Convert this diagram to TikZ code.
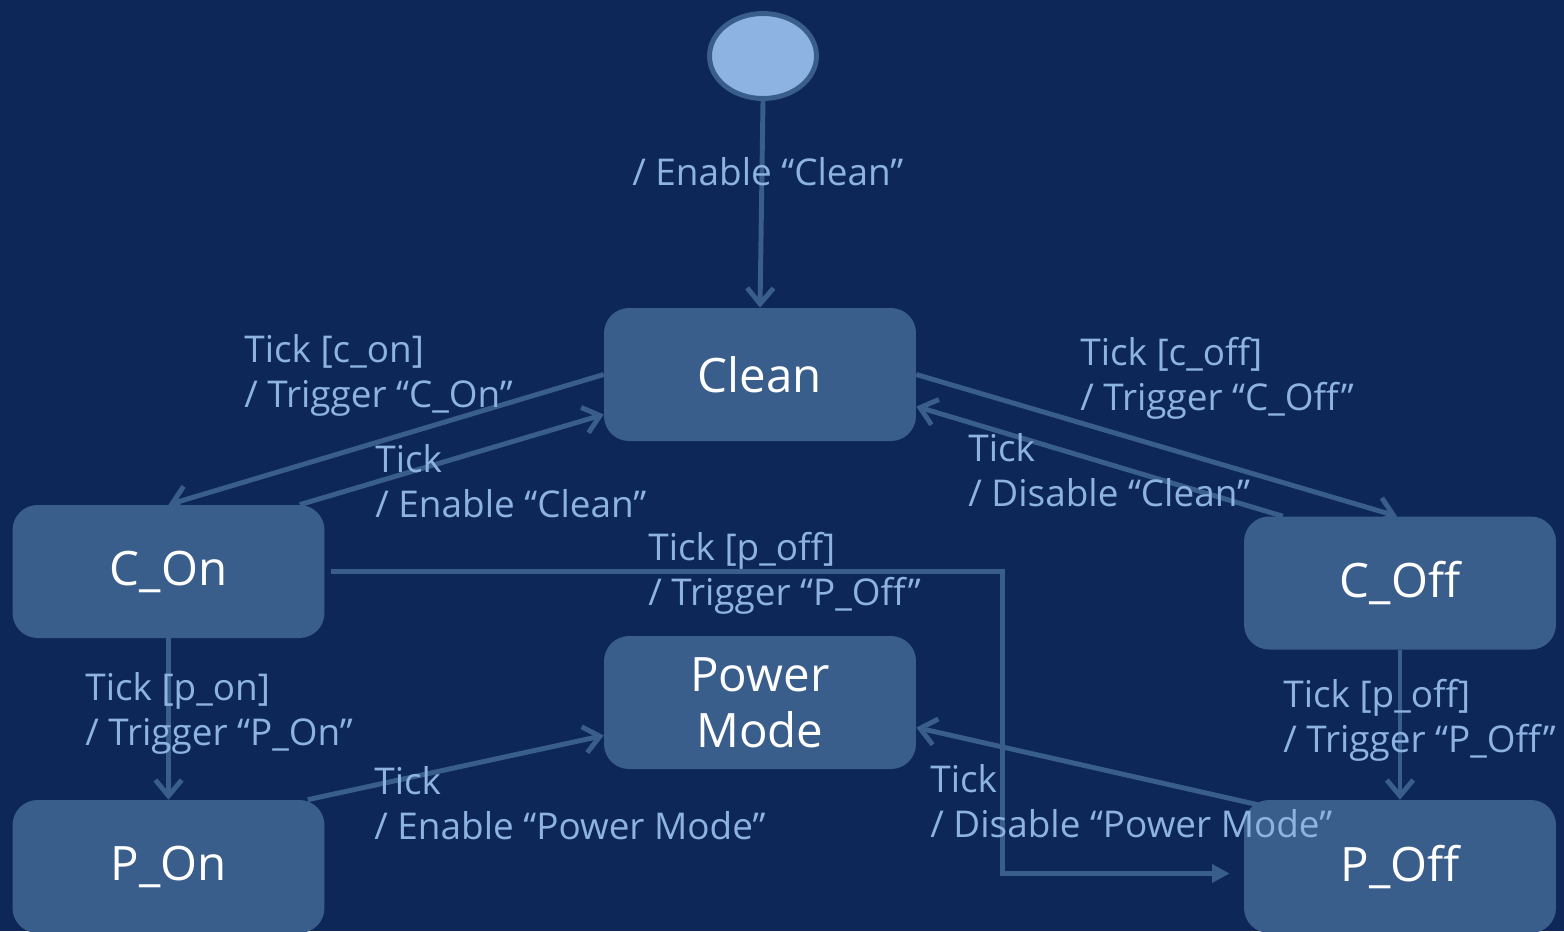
\documentclass[tikz,border=0pt]{standalone}
\usepackage{fontspec}
\setmainfont{Open Sans}
\usetikzlibrary{calc,arrows.meta,positioning,shapes.geometric}
\definecolor{bgnavy}{HTML}{0D2758}
\definecolor{statefill}{HTML}{3A5E8C}
\definecolor{lblblue}{HTML}{8DB3E2}

\begin{document}
\begin{tikzpicture}[x=0.02cm,y=-0.02cm]
    \tikzset{state/.style={fill=statefill, rounded corners=0.5cm, inner sep=0pt,
            minimum width=6.24cm, minimum height=2.66cm, text=white, align=center,
            font=\fontsize{27}{32}\selectfont},
        trans/.style={draw=statefill, line width=2.8pt, -{Straight Barb[length=9pt,width=15pt]}},
        lbl/.style={text=lblblue, anchor=base west, align=left, inner sep=0pt,
            font=\fontsize{21}{25.5}\selectfont},}
    \fill[bgnavy] (0,0) rectangle (1564,931);
    \useasboundingbox (0,0) rectangle (1564,931);
    % states
    \node[ellipse, fill=lblblue, draw=statefill, line width=2.8pt, inner sep=0pt,
        minimum width=2.14cm, minimum height=1.7cm] (start) at (763,56) {};
    \node[state] (clean) at (760,374.5) {Clean};
    \node[state] (con) at (168.5,571.5) {C\_On};
    \node[state] (coff) at (1400,583) {C\_Off};
    \node[state] (power) at (760,702.5) {Power\\Mode};
    \node[state] (pon) at (168.5,866.5) {P\_On};
    \node[state] (poff) at (1400,866.5) {P\_Off};
    % transitions
    \draw[trans] (start.south) -- (clean.north);
    \draw[trans] (clean.west) -- (con.north);
    \draw[trans] ($(con.north east)+(-25,0)$) -- ($(clean.west)+(0,40)$);
    \draw[trans] (clean.east) -- ($(coff.north)+(-3,0)$);
    \draw[trans] ($(coff.north west)+(39,0)$) -- ($(clean.east)+(0,32)$);
    \draw[trans, -{Triangle[length=10pt,width=10pt]}] ($(con.east)+(6,0)$) -- ++(672,0)
        |- ($(poff.west)+(-14,7)$);
    \draw[trans] (con.south) -- (pon.north);
    \draw[trans] ($(pon.north east)+(-17,0)$) -- ($(power.west)+(0,33)$);
    \draw[trans] ($(poff.north west)+(14,5)$) -- ($(power.east)+(0,25)$);
    \draw[trans] (coff.south) -- (poff.north);
    % labels (base = last line)
    \node[lbl] (lstart) at (632,185) {/ Enable “Clean”};
    \node[lbl] (lcon) at (244,407) {Tick [c\_on]\\/ Trigger “C\_On”};
    \node[lbl] (lconback) at (375,517) {Tick\\/ Enable “Clean”};
    \node[lbl] (lcoff) at (1080,410) {Tick [c\_off]\\/ Trigger “C\_Off”};
    \node[lbl] (lcoffback) at (968,506) {Tick\\/ Disable “Clean”};
    \node[lbl] (lconpoff) at (648,605) {Tick [p\_off]\\/ Trigger “P\_Off”};
    \node[lbl] (lpon) at (85,745) {Tick [p\_on]\\/ Trigger “P\_On”};
    \node[lbl] (lponpower) at (374,839) {Tick\\/ Enable “Power Mode”};
    \node[lbl] (lpoffpower) at (930,837) {Tick\\/ Disable “Power Mode”};
    \node[lbl] (lpoff) at (1283,752) {Tick [p\_off]\\/ Trigger “P\_Off”};
\end{tikzpicture}
\end{document}
